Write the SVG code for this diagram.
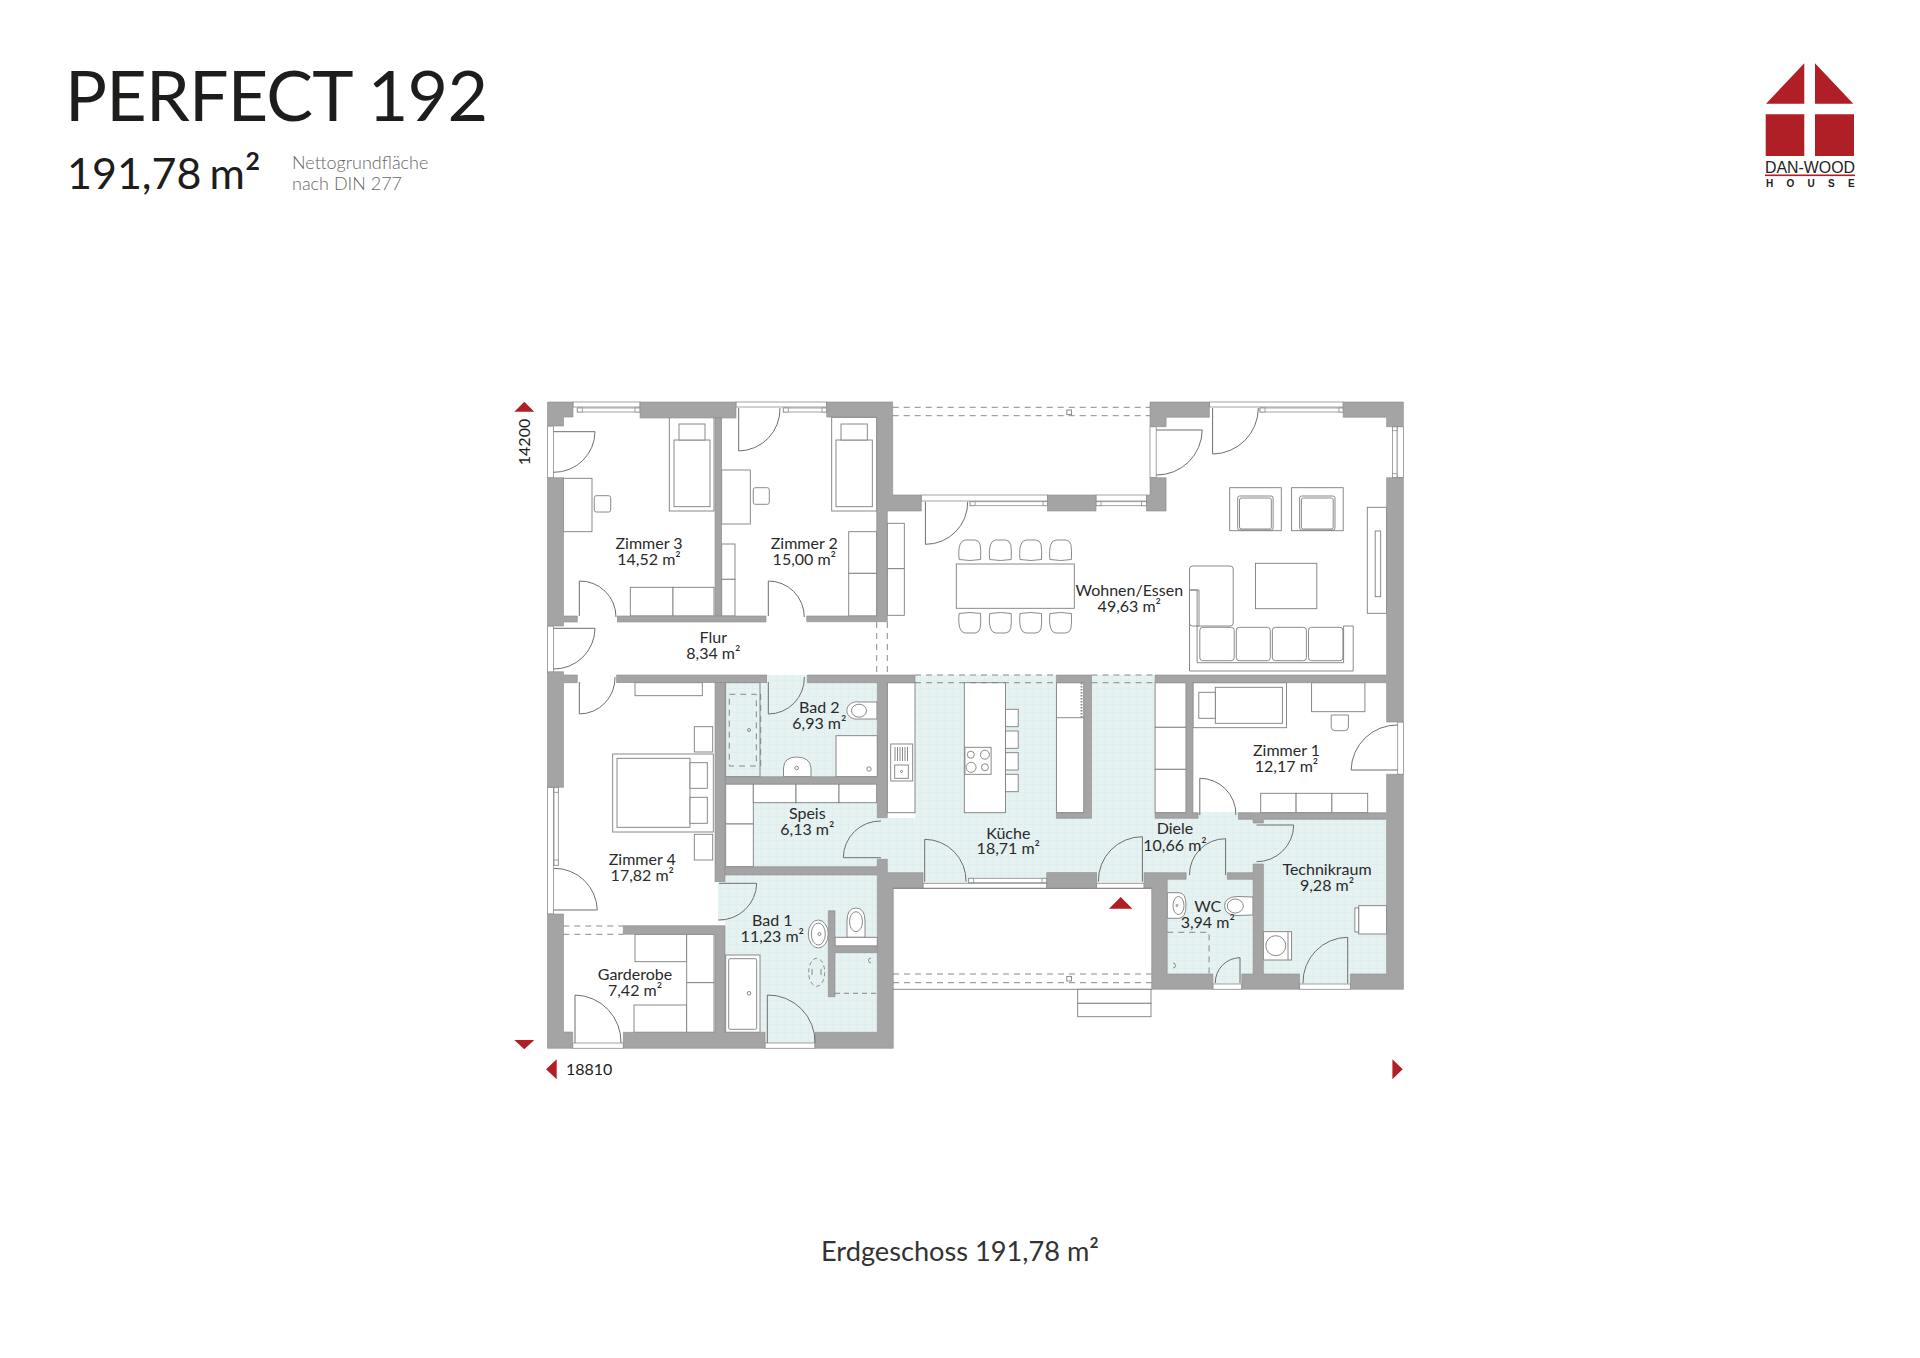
<svg xmlns="http://www.w3.org/2000/svg" width="1920" height="1358" viewBox="0 0 1920 1358">
<style>
text{font-family:Lato,"Open Sans","Liberation Sans",sans-serif;fill:#1d1d1b}
.lb{font-size:16px;text-anchor:middle;fill:#2a2a2a}
.w{fill:#a4a4a4;stroke:#8c8c8c;stroke-width:.6}
.l{fill:none;stroke:#7d7d7d;stroke-width:.9}
.f{fill:#fff;stroke:#7d7d7d;stroke-width:.9}
.g{fill:none;stroke:#7d7d7d;stroke-width:.9;stroke-dasharray:6 5}
.d{fill:none;stroke:#6e6e6e;stroke-width:1}
.win{fill:#fff;stroke:#8c8c8c;stroke-width:.8}
.r{fill:#b01e26}
.t{fill:url(#tile)}
</style>
<defs>
<pattern id="tile" width="8" height="8" patternUnits="userSpaceOnUse"><rect width="8" height="8" fill="#e6f1f1"/><path d="M0,0H8M0,0V8" stroke="#d6e8e8" stroke-width=".6"/></pattern>
<path id="chair" class="f" d="M0,20Q-1,10 1,5Q2,1 6,0.5H16Q20,1 21,5Q22,10 21.5,20Q11,22 0,20Z"/>
</defs>
<rect width="1920" height="1358" fill="#fff"/>
<g id="header">
<text x="65" y="121" font-size="70" textLength="423">PERFECT 192</text>
<text x="67" y="189" font-size="43" word-spacing="-3">191,78 m<tspan font-size="48" dy="3">²</tspan></text>
<text x="292" y="169" font-size="18" font-weight="300" style="fill:#666">Nettogrundfläche</text>
<text x="292" y="190" font-size="18" font-weight="300" style="fill:#666">nach DIN 277</text>
</g>
<g id="logo">
<path class="r" d="M1804.3,63.3V103.7H1766ZM1815,63.3V103.7H1853.3ZM1765.7,114.3H1804.3V156H1765.7ZM1815,114.3H1854V156H1815Z"/>
<text x="1765" y="172.7" font-size="17" textLength="90" lengthAdjust="spacingAndGlyphs" style="font-family:'Liberation Sans',sans-serif;fill:#222">DAN-WOOD</text>
<rect class="r" x="1765" y="174.5" width="90" height="1.6"/>
<text x="1766" y="187" font-size="10" font-weight="700" letter-spacing="13.3" style="font-family:'Liberation Sans',sans-serif;fill:#222">HOUSE</text>
</g>
<g id="floors">
<rect class="t" x="915" y="675" width="240.1" height="198"/>
<rect class="t" x="923" y="873" width="221" height="11"/>
<rect class="t" x="1155" y="812" width="98.1" height="67"/>
<rect class="t" x="1167" y="872" width="86.1" height="102"/>
<rect class="t" x="1212.9" y="974" width="28.9" height="10"/>
<rect class="t" x="1263.4" y="819" width="123.2" height="155"/>
<rect class="t" x="1250" y="823" width="14" height="41"/>
<rect class="t" x="1299.6" y="974" width="50.8" height="10"/>
<rect class="t" x="877" y="818" width="38" height="55"/>
<rect class="t" x="753" y="803" width="126" height="64"/>
<rect class="t" x="725" y="682.7" width="152" height="94.3"/>
<rect class="t" x="766" y="675" width="41" height="8"/>
<rect class="t" x="725" y="875" width="152" height="157.3"/>
<rect class="t" x="718" y="882" width="7" height="39"/>
<rect class="t" x="765" y="1032" width="50" height="11"/>
</g>
<g id="furniture">
<!-- Zimmer 3 -->
<rect class="f" x="669.3" y="417.3" width="44.7" height="93.7"/><rect class="f" x="674" y="440" width="36" height="66.7"/><rect class="f" x="679" y="424" width="26" height="16"/>
<rect class="f" x="563.3" y="478.3" width="28.7" height="53.4"/><rect class="f" x="594.3" y="495.7" width="16.4" height="16.3" rx="2"/>
<rect class="f" x="630.3" y="587.3" width="42.7" height="28.7"/><rect class="f" x="673" y="587.3" width="41" height="28.7"/>
<!-- Zimmer 2 -->
<rect class="f" x="831.7" y="417.3" width="45" height="93.7"/><rect class="f" x="836" y="440" width="36.3" height="66.7"/><rect class="f" x="841" y="424" width="26.3" height="16"/>
<rect class="f" x="721.7" y="470" width="28.6" height="54"/><rect class="f" x="753.3" y="487.7" width="16" height="16.6" rx="2"/>
<rect class="f" x="721.7" y="544" width="13.3" height="35.3"/><rect class="f" x="721.7" y="579.3" width="13.3" height="36.7"/>
<rect class="f" x="848.7" y="531.7" width="28" height="41.6"/><rect class="f" x="848.7" y="573.3" width="28" height="42.7"/>
<rect class="f" x="887.3" y="523.3" width="17" height="45.4"/><rect class="f" x="887.3" y="568.7" width="17" height="46.6"/>
<!-- Wohnen -->
<rect class="f" x="956.3" y="564" width="118" height="44.3"/>
<use href="#chair" x="959.1" y="539.5"/><use href="#chair" x="989.7" y="539.5"/><use href="#chair" x="1020" y="539.5"/><use href="#chair" x="1049.9" y="539.5"/>
<use href="#chair" transform="translate(959.1,633.5) scale(1,-1)"/><use href="#chair" transform="translate(989.7,633.5) scale(1,-1)"/><use href="#chair" transform="translate(1020,633.5) scale(1,-1)"/><use href="#chair" transform="translate(1049.9,633.5) scale(1,-1)"/>
<rect class="f" x="1229.7" y="487.7" width="51.6" height="43"/><rect class="f" x="1237.7" y="496" width="35.4" height="34" rx="2"/><rect class="l" x="1239.5" y="498" width="31.8" height="31" rx="2"/>
<rect class="f" x="1291.6" y="487.7" width="51.6" height="43"/><rect class="f" x="1299.6" y="496" width="35.4" height="34" rx="2"/><rect class="l" x="1301.4" y="498" width="31.8" height="31" rx="2"/>
<rect class="f" x="1367.3" y="507.3" width="19.3" height="106"/><rect class="f" x="1375.2" y="531" width="5.5" height="65.7"/>
<rect class="f" x="1255.5" y="563.3" width="61.3" height="45.4"/>
<path class="f" d="M1189.5,590V671H1353.2V626H1343.6V662.7H1197.1V590Z"/>
<rect class="f" x="1189.5" y="566" width="43.7" height="60" rx="3"/>
<path class="f" d="M1189.5,590H1197.1V626H1199V590Z"/>
<rect class="f" x="1199.8" y="627.3" width="34.4" height="33.4" rx="3"/><rect class="f" x="1236.3" y="627.3" width="34" height="33.4" rx="3"/><rect class="f" x="1272.4" y="627.3" width="34" height="33.4" rx="3"/><rect class="f" x="1308.5" y="627.3" width="34.4" height="33.4" rx="3"/>
<!-- Zimmer 4 -->
<rect class="f" x="635" y="682.7" width="67.3" height="13"/>
<rect class="f" x="612.7" y="754" width="100.6" height="78"/><rect class="f" x="617" y="758.3" width="73" height="69"/>
<rect class="f" x="690" y="762.7" width="17.3" height="25.6"/><rect class="f" x="690" y="797.3" width="17.3" height="26"/>
<rect class="f" x="694.3" y="726.7" width="18.4" height="25.3"/><rect class="f" x="694.3" y="834.3" width="18.4" height="25.7"/>
<!-- Bad 2 -->
<rect class="l" x="725.7" y="682.7" width="34.3" height="94"/>
<rect class="g" x="729.3" y="694.3" width="27" height="71.7"/><path class="g" d="M760.7,694V766"/><circle class="l" cx="749" cy="730" r="1.5"/>
<path class="f" d="M877,702H859A10,8.7 0 1 0 859,719H877Z"/><ellipse class="l" cx="859" cy="710.7" rx="7.5" ry="6.5"/>
<path class="f" d="M783.5,776.7V768Q784,757 796.7,757Q810,757 811,768V776.7Z"/><circle class="l" cx="796.7" cy="768" r="1.8"/>
<rect class="f" x="836" y="735.7" width="41.3" height="41"/><circle class="l" cx="869" cy="769" r="2.2"/>
<!-- Kitchen -->
<rect class="f" x="887.3" y="682.7" width="27.7" height="130"/>
<rect class="f" x="890.7" y="744" width="22" height="37"/><rect class="f" x="894.7" y="765" width="13.6" height="13.3"/><circle class="l" cx="901.5" cy="771.5" r="1"/>
<path class="l" d="M895,747V761M897.5,747V761M900,747V761M902.5,747V761M905,747V761M907.5,747V761"/>
<rect class="f" x="964.3" y="682.7" width="41.2" height="130"/>
<rect class="f" x="964.9" y="747.3" width="26.2" height="27"/>
<circle class="l" cx="970.8" cy="754.7" r="3.5"/><circle class="l" cx="984.9" cy="754.7" r="4.5"/><circle class="l" cx="971.1" cy="767.3" r="5"/><circle class="l" cx="984.9" cy="767.3" r="3.5"/>
<rect class="f" x="1005.5" y="709.3" width="12.7" height="17.4"/><rect class="f" x="1005.5" y="731" width="12.7" height="17.3"/><rect class="f" x="1005.5" y="752.7" width="12.7" height="17.3"/><rect class="f" x="1005.5" y="774.3" width="12.7" height="17.4"/>
<rect class="f" x="1056.4" y="682.7" width="27.5" height="130"/><path class="l" d="M1056.4,717.7H1083.9"/><path d="M1081.5,683V718" stroke="#8c8c8c" stroke-width="2" stroke-dasharray="1.5 1.5"/>
<!-- Speis -->
<rect class="f" x="725.7" y="784" width="27.6" height="40"/><rect class="f" x="725.7" y="824" width="27.6" height="42.7"/>
<rect class="f" x="753.3" y="784" width="42.7" height="18.7"/><rect class="f" x="796" y="784" width="43" height="18.7"/><rect class="f" x="839" y="784" width="37.7" height="18.7"/>
<!-- Bad 1 -->
<ellipse class="f" cx="818.3" cy="934" rx="10" ry="14"/><ellipse class="l" cx="818.3" cy="934" rx="7" ry="11"/><circle class="l" cx="819.5" cy="934" r="1.5"/>
<path class="f" d="M847,937.3V921Q847,908 856,908Q865,908 865,921V937.3Z"/><ellipse class="l" cx="856" cy="921.7" rx="6.5" ry="10"/>
<rect class="f" x="835" y="937.3" width="42.3" height="8.7"/>
<rect class="f" x="725.7" y="955" width="34.3" height="77.3"/><rect class="f" x="728.7" y="958.7" width="28" height="70.6" rx="1.5"/><circle class="l" cx="749" cy="993.3" r="1.8"/>
<path class="g" d="M835,993.3H877" style="stroke-dasharray:5 4"/><ellipse class="g" cx="816.7" cy="972.3" rx="8" ry="14" style="stroke-dasharray:4 3"/><path class="l" d="M821,969V975M812,969V975"/><path class="l" d="M871,958A2.5,2.5 0 0 0 871,963"/>
<!-- Garderobe -->
<rect class="f" x="635" y="934.3" width="51.7" height="27.4"/><rect class="f" x="634" y="1005" width="52.7" height="27.3"/>
<rect class="f" x="686.7" y="934.3" width="27.3" height="48.4"/><rect class="f" x="686.7" y="982.7" width="27.3" height="49.6"/>
<!-- Zimmer 1 -->
<rect class="f" x="1155.1" y="682.7" width="31" height="44.6"/><rect class="f" x="1155.1" y="727.3" width="31" height="42"/><rect class="f" x="1155.1" y="769.3" width="31" height="43.4"/>
<rect class="f" x="1193" y="682.7" width="93.5" height="45"/><rect class="f" x="1215.3" y="687.3" width="67.1" height="36"/><rect class="f" x="1198.8" y="692.3" width="16.5" height="26"/>
<rect class="f" x="1311.6" y="682.7" width="53.3" height="29"/><path class="f" d="M1331.2,715H1348.4V727Q1348.4,730.7 1344.4,730.7H1335Q1331.2,730.7 1331.2,727Z"/>
<rect class="f" x="1260.7" y="793.3" width="35.4" height="19.4"/><rect class="f" x="1296.1" y="793.3" width="35.8" height="19.4"/><rect class="f" x="1331.9" y="793.3" width="35.8" height="19.4"/>
<!-- WC -->
<path class="f" d="M1167.2,892.7H1179Q1186,893 1186,905Q1186,918 1179,918.3H1167.2Z"/><ellipse class="l" cx="1178.5" cy="905.5" rx="5.5" ry="9"/><circle class="l" cx="1177" cy="905.5" r="1"/>
<path class="f" d="M1253.1,897V915L1237,915.5Q1224.6,915 1224.6,906Q1224.6,897 1237,896.5Z"/><ellipse class="l" cx="1235.3" cy="906" rx="8" ry="7"/>
<path class="g" d="M1167.2,932.3H1209.1V974"/><path class="l" d="M1173,963A2.5,2.5 0 0 1 1173,968"/>
<!-- Technik -->
<rect class="f" x="1358.7" y="905.7" width="27.9" height="28.3"/><rect class="f" x="1354.9" y="908" width="3.8" height="24"/>
<rect class="f" x="1263.4" y="931.7" width="28.2" height="28.3"/><circle class="f" cx="1275.8" cy="945.7" r="10"/><path class="l" d="M1288,931.7V960"/>
</g>
<g id="windows">
<rect class="win" x="573" y="402" width="67" height="5"/><rect class="win" x="577.3" y="408" width="62.7" height="4"/><rect class="win" x="577.3" y="408" width="5" height="4"/><rect class="win" x="635" y="408" width="5" height="4"/>
<rect class="win" x="736" y="402" width="90.7" height="5"/><rect class="win" x="783.3" y="408" width="43.4" height="4"/><rect class="win" x="783.3" y="408" width="5" height="4"/><rect class="win" x="822" y="408" width="4.7" height="4"/>
<rect class="win" x="921.3" y="495" width="126.2" height="6"/><rect class="win" x="970.1" y="501.7" width="77.4" height="4"/><rect class="win" x="970.1" y="501.7" width="5" height="4"/><rect class="win" x="1043" y="501.7" width="4.5" height="4"/>
<rect class="win" x="1096" y="495" width="50.5" height="6"/><rect class="win" x="1096" y="501.7" width="50.5" height="4"/><rect class="win" x="1096" y="501.7" width="5" height="4"/><rect class="win" x="1141.5" y="501.7" width="5" height="4"/>
<rect class="win" x="1150" y="426.7" width="6.2" height="51"/>
<rect class="win" x="1209.4" y="402" width="133.8" height="5"/><rect class="win" x="1260" y="408" width="83.2" height="4"/><rect class="win" x="1260" y="408" width="5" height="4"/><rect class="win" x="1339" y="408" width="4.2" height="4"/>
<rect class="win" x="1397" y="426.7" width="6.4" height="51"/><rect class="win" x="1392.4" y="426.7" width="4.6" height="51"/><rect class="win" x="1392.4" y="426.7" width="4.6" height="4"/><rect class="win" x="1392.4" y="473.7" width="4.6" height="4"/>
<rect class="win" x="1397.7" y="722" width="5.7" height="52.3"/>
<rect class="win" x="547.5" y="426" width="6" height="52"/>
<rect class="win" x="547.5" y="626" width="6" height="46.7"/>
<rect class="win" x="547.5" y="787.3" width="6" height="126.7"/><rect class="win" x="554" y="787.3" width="4.3" height="78"/><rect class="win" x="554" y="787.3" width="4.3" height="5"/><rect class="win" x="554" y="860" width="4.3" height="5.3"/>
<rect class="win" x="572.7" y="1043" width="50.6" height="5.3"/>
<rect class="win" x="765" y="1043" width="50" height="5.3"/>
<rect class="win" x="923" y="883.3" width="123.8" height="5"/><rect class="win" x="968.7" y="878.3" width="78.1" height="4.4"/><rect class="win" x="968.7" y="878.3" width="5" height="4.4"/><rect class="win" x="1042" y="878.3" width="4.8" height="4.4"/>
<rect class="win" x="1096.7" y="883.3" width="47.4" height="5"/>
<rect class="win" x="1212.9" y="984" width="28.9" height="5.3"/>
<rect class="win" x="1299.6" y="984" width="50.8" height="5.3"/>
</g>
<g id="walls">
<path class="w" d="M547.5,402H573V417H563.5V426H547.5Z"/>
<rect class="w" x="640" y="402" width="96" height="16"/>
<rect class="w" x="715" y="418" width="6.7" height="198"/>
<path class="w" d="M826.7,402H892.7V495H921.3V511H887.3V621.7H806.7V616H876.7V417H826.7Z"/>
<path class="w" d="M547.5,477.7H563.5V616H577.3V622H563.5V626H547.5Z"/>
<rect class="w" x="617.3" y="616" width="148.7" height="6"/>
<path class="w" d="M547.5,671.7H563.5V675H577.3V682.7H563.5V787.3H547.5Z"/>
<rect class="w" x="616.7" y="675" width="150" height="7.7"/>
<path class="w" d="M807.3,675H915V682.7H887.3V817.7H877.3V784H725V776.7H877.3V682.7H807.3Z"/>
<rect class="w" x="715" y="682.7" width="10" height="199"/>
<path class="w" d="M725,866.7H877.3V859.3H887.3V872.7H923V888.3H893.3V1048.3H815V1032.3H877.3V875H725Z"/>
<path class="w" d="M547.5,914H563.5V1032H572.7V1048.3H547.5Z"/>
<path class="w" d="M623.3,925.7H725V1032.3H765V1048.3H623.3V1032.3H715V934.3H623.3Z"/>
<path class="w" d="M828.3,910.7H835V946H877.3V952.7H835V996.7H828.3Z"/>
<rect class="w" x="1047.5" y="495" width="48.5" height="16"/>
<path class="w" d="M1150,477.7H1166.1V511H1146.5V495H1150Z"/>
<path class="w" d="M1150,402H1209.4V417.3H1166.1V426.7H1150Z"/>
<path class="w" d="M1343.2,402H1403.4V426.7H1386.6V417.3H1343.2Z"/>
<path class="w" d="M1386.6,477.7H1403.4V722H1386.6V682.7H1193V812.7H1198.1V818.3H1155.1V812.7H1186.1V682.7H1155.1V675H1386.6Z"/>
<path class="w" d="M1056.4,675H1091.5V818.3H1056.4V812.7H1083.9V682.7H1056.4Z"/>
<path class="w" d="M1238.4,812.7H1386.6V774.3H1403.4V989.3H1350.4V974H1386.6V819.3H1263.4V823H1253.1V819.3H1238.4Z"/>
<path class="w" d="M1227.3,872.7H1253.1V864H1263.4V974H1299.6V989.3H1241.8V974H1253.1V879.3H1227.3Z"/>
<rect class="w" x="1046.8" y="872.7" width="49.9" height="15.6"/>
<path class="w" d="M1144.1,872.7H1186.1V879.3H1167.2V974H1212.9V989.3H1151.7V888.3H1144.1Z"/>
</g>
<g id="outlines">
<path class="l" d="M893,888.3H1151.7M893,989.3H1151.7"/>
<path class="g" d="M892.7,407.3H1150M892.7,415.7H1150"/>
<path class="g" d="M893,974H1151.7M893,982.7H1151.7"/>
<rect class="f" x="1066.8" y="410" width="4.6" height="4.6"/><rect class="f" x="1066.8" y="976.4" width="4.6" height="4.6"/>
<rect class="f" x="1077.7" y="989.3" width="73.3" height="14"/><rect class="f" x="1077.7" y="1003.3" width="73.3" height="13.4"/>
<path class="g" d="M876.7,622V675M887.3,622V675"/>
<path class="g" d="M915,675H1056.4M915,682.7H1056.4M1091.5,675H1155.1M1091.5,682.7H1155.1"/>
<path class="g" d="M563.3,926H623.3M563.3,934.3H623.3"/>
</g>
<g id="doors">
<path class="d" d="M553.3,431.7H595A41,41 0 0 1 553.3,472.3"/>
<path class="d" d="M579.3,616V581A36,36 0 0 1 616,617"/>
<path class="d" d="M768.3,616V581A36,36 0 0 1 804.3,617"/>
<path class="d" d="M738.7,408V451A42,42 0 0 0 780,408"/>
<path class="d" d="M553.3,628.3H595A41,41 0 0 1 553.3,669"/>
<path class="d" d="M579.3,682V714A36,36 0 0 0 615,677"/>
<path class="d" d="M768.3,682V714A36,36 0 0 0 804.3,677"/>
<path class="d" d="M881,857.7H843.3A37,37 0 0 1 881,821"/>
<path class="d" d="M924.7,881.7V839.3A41.5,41.5 0 0 1 966,881.7"/>
<path class="d" d="M1142.4,881.7V836.7A44,44 0 0 0 1098.4,881.7"/>
<path class="d" d="M1225.6,875V838.7A36,36 0 0 0 1189.5,875"/>
<path class="d" d="M1256.6,825H1293.7A37,37 0 0 1 1256.6,861.7"/>
<path class="d" d="M1199.8,815V778.3A36,36 0 0 1 1235.9,815"/>
<path class="d" d="M1397.7,770H1351.1A46,46 0 0 1 1397.7,725"/>
<path class="d" d="M1240,983V957.7A25,25 0 0 0 1215.3,983"/>
<path class="d" d="M1347.7,983.3V937.3A45,45 0 0 0 1303,983.3"/>
<path class="d" d="M575,1043V995A47,47 0 0 1 621,1043"/>
<path class="d" d="M767.3,1043V995A47,47 0 0 1 815,1043"/>
<path class="d" d="M719,883.3H756.7A37.5,37.5 0 0 1 718.3,920"/>
<path class="d" d="M554,910H597.3A43,43 0 0 0 554,868.3"/>
<path class="d" d="M925.4,501.7V544.3A42,42 0 0 0 967.7,501.7"/>
<path class="d" d="M1156.2,430H1202.2A45.5,45.5 0 0 1 1156.2,475"/>
<path class="d" d="M1212.6,408V454A46,46 0 0 0 1258.3,408"/>
</g>
<g id="dimensions">
<path class="r" d="M514.3,411.7L524.3,401.7L534.3,411.7ZM514.3,1040H534.3L524.3,1049.3ZM556.7,1059.3V1079.3L546,1069.3ZM1392.4,1059.3V1079.3L1402.7,1069.3ZM1109,908.7L1120.7,897L1132.4,908.7Z"/>
<text x="530" y="442" font-size="16" text-anchor="middle" transform="rotate(-90 530 442)">14200</text>
<text x="566" y="1075" font-size="16">18810</text>
</g>
<g id="labels">
<text class="lb" x="649" y="548.5">Zimmer 3</text><text class="lb" x="649" y="564.5">14,52 m²</text>
<text class="lb" x="804.3" y="548.5">Zimmer 2</text><text class="lb" x="804.3" y="564.5">15,00 m²</text>
<text class="lb" x="713.3" y="643">Flur</text><text class="lb" x="713.3" y="658.5">8,34 m²</text>
<text class="lb" x="1129.3" y="596">Wohnen/Essen</text><text class="lb" x="1129.3" y="612">49,63 m²</text>
<text class="lb" x="819.3" y="713.3">Bad 2</text><text class="lb" x="819.3" y="729">6,93 m²</text>
<text class="lb" x="642.3" y="865">Zimmer 4</text><text class="lb" x="642.3" y="880.7">17,82 m²</text>
<text class="lb" x="807.3" y="819.3">Speis</text><text class="lb" x="807.3" y="835">6,13 m²</text>
<text class="lb" x="772.3" y="926">Bad 1</text><text class="lb" x="772.3" y="942.3">11,23 m²</text>
<text class="lb" x="635" y="980">Garderobe</text><text class="lb" x="635" y="996">7,42 m²</text>
<text class="lb" x="1008.3" y="839">Küche</text><text class="lb" x="1008.3" y="854.3">18,71 m²</text>
<text class="lb" x="1175" y="834.3">Diele</text><text class="lb" x="1175" y="851">10,66 m²</text>
<text class="lb" x="1207.7" y="912.3">WC</text><text class="lb" x="1207.7" y="928.3">3,94 m²</text>
<text class="lb" x="1327" y="875">Technikraum</text><text class="lb" x="1327" y="891">9,28 m²</text>
<text class="lb" x="1286.5" y="756">Zimmer 1</text><text class="lb" x="1286.5" y="771.7">12,17 m²</text>
</g>
<text x="960" y="1261" font-size="27.2" text-anchor="middle" style="fill:#333">Erdgeschoss 191,78 m<tspan font-size="29">²</tspan></text>
</svg>
